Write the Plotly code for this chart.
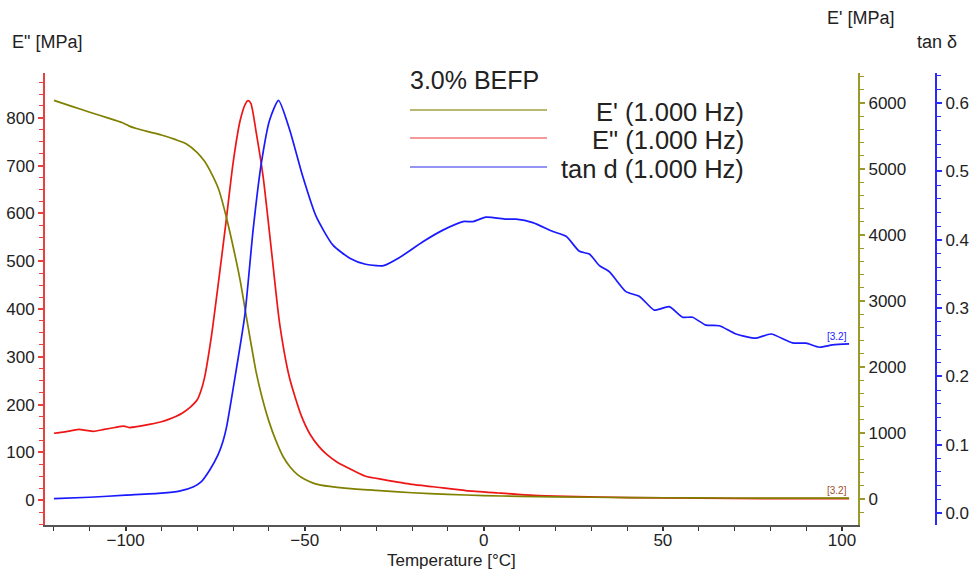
import plotly.graph_objects as go

# ---------------- data ----------------
ep_T = [-120, -115, -110, -105, -101, -100, -99, -97, -94, -90, -86, -83, -80, -78, -76, -74,
        -72, -70, -68, -66.5, -65, -63.5, -62, -60, -58, -56, -54, -52, -50, -47, -43, -38,
        -30, -20, -10, 0, 10, 20, 40, 60, 80, 102]
ep_val = [6040, 5950, 5860, 5775, 5705, 5680, 5650, 5615, 5570, 5515, 5445, 5380, 5250, 5120,
          4930, 4690, 4300, 3830, 3310, 2830, 2360, 1910, 1560, 1180, 880, 640, 480, 370, 300,
          230, 190, 160, 130, 95, 70, 52, 40, 32, 22, 17, 14, 12]

epp_T = [-120, -117, -113, -111, -109, -106, -103, -100.5, -99, -96, -93, -90, -88, -86, -84,
         -82, -80, -79, -78, -76, -74, -72, -70, -68, -66.5, -65.8, -65, -63.5, -61.6, -59.3, -57,
         -54.2, -51, -48.5, -46, -44, -41, -38, -33, -28, -20, -14, -5, 4, 14, 23, 41, 60, 80, 102]
epp_val = [140, 143, 148, 146, 144, 148, 152, 155, 152, 155, 159, 164, 169, 175, 183,
           194, 210, 228, 255, 345, 460, 580, 705, 795, 830, 836, 830, 768, 677, 524, 370,
           255, 178, 138, 112, 97, 80, 68, 50, 43, 33, 28, 20, 15, 10, 8, 5.5, 4, 3, 3]

tan_T = [-120, -110, -100, -90, -85, -81, -79, -76.5, -74.2, -72.8, -71.8, -69.5, -66.7, -64.4,
         -62.1, -59.8, -57.3, -54.2, -50.5, -46.8, -42.1, -37.4, -33, -30, -28, -23.5, -17,
         -11.4, -5.8, -3, 0.6, 6.2, 9, 13.7, 19.3, 23, 26.7, 29.5, 32.3, 35.1, 39.7, 43.5,
         47.6, 51.8, 55.5, 58.3, 62, 65.8, 70.4, 76, 80.2, 86.2, 90, 93.7, 97.4, 102]
tan_val = [0.021, 0.023, 0.026, 0.029, 0.032, 0.0385, 0.045, 0.063, 0.085, 0.105, 0.126, 0.197,
           0.29, 0.414, 0.512, 0.575, 0.604, 0.561, 0.492, 0.434, 0.392, 0.373, 0.364, 0.362,
           0.362, 0.374, 0.397, 0.414, 0.4265, 0.4265, 0.433, 0.430, 0.430, 0.425, 0.412,
           0.405, 0.383, 0.379, 0.362, 0.353, 0.324, 0.317, 0.297, 0.302, 0.2865, 0.2865,
           0.275, 0.274, 0.262, 0.256, 0.262, 0.249, 0.2485, 0.2426, 0.246, 0.2474]

x_ticks = [-100, -50, 0, 50, 100]
legend_title = "3.0% BEFP"
legend_names = ["E' (1.000 Hz)", 'E" (1.000 Hz)', "tan d (1.000 Hz)"]

# ---------------- style ----------------
FONT = "Liberation Sans, Arial, sans-serif"
C_OLIVE = "#808000"
C_OLIVE_AX = "#9a9a2a"
C_RED = "#ee1515"
C_RED_AX = "#e84040"
C_BLUE = "#1a1aff"
C_BLUE_AX = "#2a2aff"
TXT = "#222222"

fig = go.Figure()
fig.add_trace(go.Scatter(x=ep_T, y=ep_val, yaxis="y2", mode="lines",
                         line=dict(color=C_OLIVE, width=1.7, shape="spline", smoothing=0.6),
                         name=legend_names[0], showlegend=False))
fig.add_trace(go.Scatter(x=epp_T, y=epp_val, yaxis="y", mode="lines",
                         line=dict(color=C_RED, width=1.7, shape="spline", smoothing=0.6),
                         name=legend_names[1], showlegend=False))
fig.add_trace(go.Scatter(x=tan_T, y=tan_val, yaxis="y3", mode="lines",
                         line=dict(color=C_BLUE, width=1.7, shape="spline", smoothing=0.6),
                         name=legend_names[2], showlegend=False))

tickfont = dict(family=FONT, size=17, color=TXT)

fig.update_layout(
    width=975, height=571, autosize=False,
    margin=dict(l=45, r=39, t=73, b=46, autoexpand=False),
    paper_bgcolor="white", plot_bgcolor="white",
    font=dict(family=FONT, color=TXT),
    showlegend=False,
    xaxis=dict(domain=[0, 0.9125], range=[-122.5, 104.5], tickvals=x_ticks,
               showline=True, linecolor="#555555", linewidth=2, ticks="outside",
               ticklen=4, tickwidth=1.5, tickcolor="#333333", automargin=False,
               ticklabelstandoff=-5,
               minor=dict(dtick=10, tick0=0, ticklen=4, tickwidth=1.2, tickcolor="#333333", ticks="outside"),
               showgrid=False, zeroline=False, tickfont=tickfont, anchor="y"),
    yaxis=dict(range=[-52, 894], tick0=0, dtick=100, showline=True, linecolor=C_RED_AX,
               linewidth=2, ticks="outside", ticklen=5, tickwidth=1.5, tickcolor=C_RED_AX,
               automargin=False,
               minor=dict(dtick=25, tick0=0, ticklen=4, tickwidth=1.2, tickcolor=C_RED_AX, ticks="outside"),
               showgrid=False, zeroline=False, tickfont=tickfont, anchor="x"),
    yaxis2=dict(range=[-394, 6455], tick0=0, dtick=1000, overlaying="y", side="right",
                anchor="x", showline=True, linecolor=C_OLIVE_AX, linewidth=2, ticks="outside",
                ticklen=5, tickwidth=1.5, tickcolor=C_OLIVE_AX, automargin=False,
                minor=dict(dtick=200, tick0=0, ticklen=4, tickwidth=1.2, tickcolor=C_OLIVE_AX, ticks="outside"),
                showgrid=False, zeroline=False, tickfont=tickfont),
    yaxis3=dict(range=[-0.0176, 0.644], tick0=0, dtick=0.1, tickformat=".1f",
                overlaying="y", side="right", anchor="free", position=1.0,
                showline=True, linecolor=C_BLUE_AX, linewidth=2, ticks="outside",
                ticklen=5, tickwidth=1.5, tickcolor=C_BLUE_AX, automargin=False,
                minor=dict(dtick=0.02, tick0=0, ticklen=4, tickwidth=1.2, tickcolor=C_BLUE_AX, ticks="outside"),
                showgrid=False, zeroline=False, tickfont=tickfont),
)

def pxp(px):
    return (px - 45) / 891.0

def pyp(py):
    return (525 - py) / 452.0

ann = []
ann.append(dict(text='E" [MPa]', x=pxp(10), y=pyp(42), xref="paper", yref="paper",
                xanchor="left", yanchor="middle", showarrow=False,
                font=dict(family=FONT, size=18, color=TXT)))
ann.append(dict(text="E' [MPa]", x=pxp(825), y=pyp(18), xref="paper", yref="paper",
                xanchor="left", yanchor="middle", showarrow=False,
                font=dict(family=FONT, size=18, color=TXT)))
ann.append(dict(text="tan δ", x=pxp(915), y=pyp(42), xref="paper", yref="paper",
                xanchor="left", yanchor="middle", showarrow=False,
                font=dict(family=FONT, size=18, color=TXT)))
ann.append(dict(text="Temperature [°C]", x=pxp(451), y=pyp(560), xref="paper", yref="paper",
                xanchor="center", yanchor="middle", showarrow=False,
                font=dict(family=FONT, size=17, color=TXT)))
ann.append(dict(text=legend_title, x=pxp(408), y=pyp(80), xref="paper", yref="paper",
                xanchor="left", yanchor="middle", showarrow=False,
                font=dict(family=FONT, size=25, color=TXT)))

leg_y = [110, 138, 167]
leg_cols = ["#a0a040", "#f07878", "#7070f0"]
shapes = []
for name, ly, lc in zip(legend_names, leg_y, leg_cols):
    shapes.append(dict(type="line", xref="paper", yref="paper",
                       x0=pxp(410), x1=pxp(547), y0=pyp(ly), y1=pyp(ly),
                       line=dict(color=lc, width=1.5)))
    ann.append(dict(text=name, x=pxp(746), y=pyp(ly + 2), xref="paper", yref="paper",
                    xanchor="right", yanchor="middle", showarrow=False,
                    font=dict(family=FONT, size=25.5, color=TXT)))

ann.append(dict(text="[3.2]", x=tan_T[-1], y=tan_val[-1], xref="x", yref="y3",
                xanchor="right", yanchor="bottom", showarrow=False, yshift=0,
                font=dict(family=FONT, size=10, color=C_BLUE)))
ann.append(dict(text="[3.2]", x=ep_T[-1], y=ep_val[-1], xref="x", yref="y2",
                xanchor="right", yanchor="bottom", showarrow=False, yshift=0,
                font=dict(family=FONT, size=10, color="#a0522d")))

fig.update_layout(annotations=ann, shapes=shapes)
fig.write_html("out.html", config={"displayModeBar": False},
               post_script="document.body.style.margin='0';document.body.style.overflow='hidden';")
